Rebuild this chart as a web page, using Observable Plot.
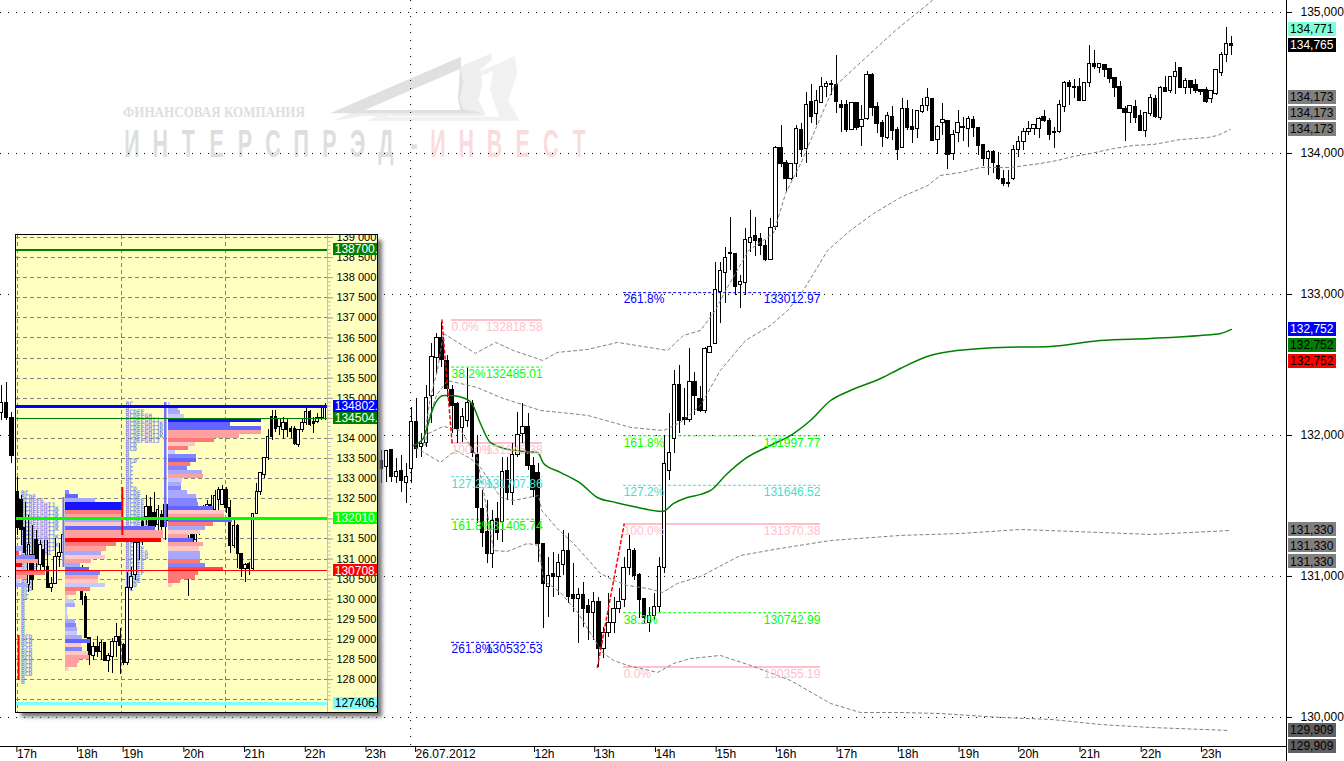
<!DOCTYPE html>
<html><head><meta charset="utf-8">
<script src="https://cdn.jsdelivr.net/npm/d3@7"></script>
<script src="https://cdn.jsdelivr.net/npm/@observablehq/plot@0.6"></script>
<style>
html,body{margin:0;padding:0;background:#fff;}
#main{position:relative;width:1344px;height:761px;overflow:hidden;}
#inset{position:absolute;left:16px;top:235px;width:361px;height:477px;background:#FFFFC0;outline:1px solid #000;box-shadow:5px 5px 4px #777;}
svg{display:block;}
</style></head><body><div id="main"><div id="inset"></div></div>
<script>
// ---------- main chart: 5-minute candles (bar index 0 = 26.07.2012 start of session view)
const firstBar = -4;
const highs=[131894,131894,131894,131837,131858,131801,132199,132262,132014,132355,132652,132723,132801,132567,132355,132234,132191,132475,132248,132000,131610,131539,131468,131525,131844,131844,131943,132163,132227,132156,131844,131801,131234,131135,131170,131156,131326,131305,131092,130915,130957,130837,130887,130851,130638,130880,130851,130915,131135,131291,131199,131021,130844,130780,130880,131135,132000,132156,132461,132496,132333,132617,132447,132347,132624,132872,133227,133227,133333,133546,133284,133135,133468,133596,133546,133433,133383,133539,134050,134199,133950,133929,134199,134213,134433,134489,134447,134539,134511,134518,134695,134376,134376,134355,134355,134340,134581,134567,134362,134234,134291,134333,134184,134390,134376,134312,134305,134390,134461,134383,134199,134355,134227,134163,134305,134255,134262,134262,134184,134064,134021,134021,134007,133879,133879,134057,134120,134177,134227,134206,134255,134305,134248,134184,134376,134511,134518,134525,134532,134503,134766,134730,134638,134631,134596,134532,134511,134333,134340,134376,134305,134284,134418,134411,134475,134546,134539,134645,134603,134532,134511,134525,134454,134468,134440,134596,134716,134894,134830];
const lows=[131660,131667,131667,131660,131596,131518,131660,131837,131844,131915,132085,132440,132482,132269,132014,131943,131950,132057,131844,131376,131206,131092,131057,131255,131241,131539,131504,131844,131943,131752,131560,131099,130631,130709,130851,130865,131007,130809,130745,130525,130638,130546,130546,130355,130418,130567,130596,130738,130780,131007,130972,130702,130667,130603,130688,130745,131021,131681,131872,132014,132071,132092,132142,132163,132156,132582,132645,132794,132936,133170,132993,132901,132993,133298,133269,133277,133234,133241,133454,133901,133723,133808,133830,133972,133929,134213,134199,134355,134397,134411,134284,134149,134149,134170,134163,134050,134234,134262,134142,134042,134099,134092,133950,134035,134163,134071,134106,134284,134298,134085,133993,134128,133886,133950,134078,134085,134042,134113,133986,133908,133844,133858,133808,133766,133759,133808,133972,134021,134128,134128,134106,134220,134092,134035,134142,134291,134340,134390,134369,134369,134468,134596,134567,134539,134496,134397,134312,134085,134213,134213,134156,134113,134262,134248,134234,134433,134425,134418,134461,134418,134418,134425,134411,134355,134355,134411,134546,134645,134695];
const opens=[131816,131773,131894,131702,131745,131660,131759,132092,131915,131950,132277,132546,132688,132525,132326,132220,132050,132106,132220,131858,131482,131312,131156,131411,131383,131745,131589,131858,132007,132057,131780,131731,131227,130922,131021,130993,131078,131184,130872,130837,130872,130787,130738,130816,130482,130596,130667,130766,130830,131057,131184,131007,130837,130667,130723,130780,131057,131745,131972,132355,132121,132113,132376,132262,132170,132582,132652,133021,133149,133284,133284,133064,133078,133362,133418,133390,133347,133248,133482,134042,133936,133816,133922,134163,134035,134362,134277,134355,134468,134496,134489,134347,134347,134170,134355,134191,134241,134560,134333,134213,134113,134262,134170,134042,134312,134191,134177,134291,134340,134383,134099,134213,134227,133993,134142,134191,134177,134234,134184,134057,133964,134007,133908,133816,133794,133816,134028,134078,134149,134177,134177,134262,134227,134149,134149,134333,134503,134468,134468,134369,134503,134638,134603,134631,134596,134532,134468,134319,134284,134333,134269,134156,134277,134383,134255,134461,134440,134539,134603,134461,134511,134489,134447,134447,134383,134425,134574,134695,134773];
const closes=[131759,131887,131702,131738,131674,131702,132092,131901,131943,132269,132560,132688,132532,132333,132206,132043,132128,132227,131879,131489,131305,131156,131390,131305,131738,131589,131858,132000,132057,131780,131610,131227,130950,131000,130993,131092,131184,130851,130837,130865,130766,130738,130816,130482,130596,130667,130766,130816,131057,131191,131000,130830,130702,130723,130780,131064,131801,131879,132355,132106,132113,132376,132277,132170,132610,132624,133035,133163,133262,133291,133050,133092,133383,133404,133376,133347,133241,133475,134042,133922,133816,133922,134177,134028,134347,134262,134369,134468,134496,134489,134362,134326,134170,134355,134184,134234,134560,134326,134206,134120,134269,134156,134028,134312,134184,134170,134298,134340,134390,134092,134191,134234,133986,134128,134213,134184,134241,134184,134050,133964,134014,133929,133816,133787,133787,134028,134078,134149,134177,134199,134248,134227,134128,134142,134347,134503,134468,134461,134369,134503,134638,134610,134638,134589,134525,134461,134312,134284,134340,134255,134156,134284,134397,134262,134461,134433,134539,134581,134461,134511,134461,134440,134433,134362,134440,134589,134695,134773,134765];
// candles just visible above the inset at the far left
const earlyBars=[-79,-78,-77];
const earlyHighs=[132355,132376,132163], earlyLows=[132106,132106,131801], earlyOpens=[132156,132227,132121], earlyCloses=[132227,132121,131851];

// ---------- overlay lines: [bar, price]
const maLine=[[2.4,131929],[4.3,131979],[5.3,132085],[6.3,132199],[8.3,132284],[9.7,132284],[13,132255],[14,132220],[15.6,132085],[17.6,131950],[22.1,131894],[26.9,131879],[28.1,131801],[31.4,131738],[35.4,131660],[38.7,131560],[42.3,131525],[45.8,131496],[51.6,131461],[53.8,131518],[56.5,131560],[59.1,131582],[61.1,131610],[64,131716],[68,131837],[72.9,131929],[76.9,132000],[80.8,132106],[84.8,132248],[88.7,132319],[94.7,132404],[98.6,132475],[104.5,132567],[108.5,132596],[118.4,132624],[128.3,132631],[138.1,132674],[148,132688],[157.9,132709],[161.9,132723],[164,132752]];
const bandUpper2=[[4.3,131929],[5.7,132269],[7.1,132461],[8.3,132723],[14.6,132582],[18.6,132660],[22.1,132603],[27.9,132532],[30.8,132589],[36.8,132610],[42.7,132660],[52.6,132603],[55.7,132709],[59.1,132745],[62,132886],[64.4,133050],[68.6,133312],[73.5,133433],[75.9,133716],[78.9,133929],[82.8,134255],[85.4,134468],[90.7,134645],[97.6,134872],[104.9,135085]];
const bandUpper1=[[4.7,131929],[5.3,132106],[6.9,132284],[9.1,132390],[15,132340],[19.6,132269],[27.5,132177],[31.4,132163],[36.8,132142],[45.3,132057],[51.8,132035],[55.1,132092],[59.1,132213],[63,132461],[68,132674],[72.9,132780],[76.3,132886],[79.4,133028],[84.2,133312],[88.7,133454],[93.3,133574],[98.6,133688],[104,133773],[106.5,133844],[110.5,133865],[114.4,133901],[120.4,133901],[126.3,133929],[129.6,133950],[132.8,133979],[136.2,134000],[140.7,134035],[144.7,134057],[148.6,134064],[154,134099],[159.3,134113],[161.3,134128],[163.8,134170]];
const bandLower1=[[2.8,131915],[7.7,131809],[10.7,131894],[13.6,131837],[15.6,131773],[19.6,131560],[22.1,131539],[27.1,131574],[27.7,131468],[30.8,131340],[34,131234],[39.3,131021],[41.9,130972],[44.7,130936],[48.6,130915],[51.6,130887],[54.5,130950],[59.1,131000],[67,131149],[74.9,131199],[84.8,131255],[98.6,131291],[110.5,131305],[122.3,131333],[138.1,131312],[148,131298],[163.8,131326]];
const bandLower2=[[5.3,132014],[8.3,132064],[11.7,132035],[14.8,131858],[16.2,131610],[18.2,131184],[20.9,131177],[24.9,131234],[27.1,131220],[28.1,130972],[31.4,130887],[34.8,130745],[37.9,130567],[39.7,130461],[41.9,130404],[44.7,130369],[50.6,130319],[53.8,130383],[57.1,130418],[59.1,130425],[63,130440],[69,130369],[76.9,130262],[84.8,130099],[90.7,130035],[98.6,130035],[106.5,130028],[118.4,130000],[128.3,129986],[138.1,129950],[148,129929],[163.4,129908]];
const swingDown=[[8,132818.58],[10,131945.38]];
const swingUp=[[38.7,130355.19],[44,131370.38]];

// ---------- Fibonacci levels
const fibPct=["0.0%","38.2%","100.0%","127.2%","161.8%","261.8%"];
const fibLeftPrices=[132818.58,132485.01,131945.38,131707.86,131405.74,130532.53];
const fibRightPct=["261.8%","161.8%","127.2%","100.0%","38.2%","0.0%"];
const fibRightPrices=[133012.97,131997.77,131646.52,131370.38,130742.99,130355.19];
const fibColors={"0.0%":"#FFC0CB","100.0%":"#FFC0CB","38.2%":"#00FF00","161.8%":"#00FF00","127.2%":"#40E0D0","261.8%":"#0000FF"};

// ---------- axes
const yTicks=[130000,131000,132000,133000,134000,135000];
const timeBars=[-77,-65,-56,-44,-32,-20,-8,1.8,25.3,37.2,49.2,61.2,73.1,85.1,97.2,109.2,121,133.1,145.2,157.1];
const timeLabels=["17h","18h","19h","20h","21h","22h","23h","26.07.2012","12h","13h","14h","15h","16h","17h","18h","19h","20h","21h","22h","23h"];
const boxValues=[134771,134765,134173,134173,134173,132752,132752,132752,131330,131330,131330,129909,129909];
const boxAnchors=[134765,134765,134173,134173,134173,132752,132752,132752,131330,131330,131330,129909,129909];
const boxSlots=[1,0,2,1,0,0,-1,-2,0,-1,-2,0,-1];
const boxFills=["#7FFFD4","#000000","#808080","#808080","#808080","#0000FF","#008000","#FF0000","#808080","#808080","#808080","#606060","#606060"];
const boxInks=["#000","#fff","#000","#000","#000","#fff","#000","#000","#000","#000","#000","#000","#000"];

// ---------- watermark text
const wmTop="ФИНАНСОВАЯ КОМПАНИЯ";
const wmGrey=["И","Н","Т","Е","Р","С","П","Р","Э","Д","-"];
const wmRed=["И","Н","В","Е","С","Т"];

// ---------- inset: candles (bar index 0..81)
const insetHighs=[133029,132581,132407,132084,131835,131711,131462,131462,131462,130541,131512,131387,131959,131835,131338,131213,130964,130840,130143,129049,128924,129073,128974,128899,128651,129024,129397,129273,128899,130666,130790,131462,131711,131959,132581,132532,132656,132333,132208,132382,132457,132084,131835,131711,131338,131586,131711,131959,132208,132333,132457,132581,132706,132781,132830,132781,132457,132009,131860,131114,130890,130914,132133,132880,133129,133527,134224,134696,134696,134497,134522,134497,134298,134298,134224,134497,134771,134696,134522,134622,134746,134870];
const insetOpens=[132656,132457,131761,130342,131089,131462,130840,131213,130790,130268,130367,131039,131139,131586,131213,130840,130516,130591,130044,129024,128577,128800,128676,128899,128452,128552,128924,129049,128850,128402,130268,130591,131387,131910,132034,132283,132158,131835,132084,132333,132333,131959,131462,131512,130840,130964,131586,131462,131711,132208,131959,132333,132208,132457,132357,132706,132258,131313,131810,131114,130740,130865,130740,132133,132656,133079,133502,134522,134522,134273,134199,134373,134248,134248,133826,134199,134373,134647,134398,134398,134497,134473];
const insetCloses=[131761,131711,131139,131338,130467,130964,131338,130790,130292,130367,131039,131139,131586,131213,130840,130591,130840,129969,129024,128601,128800,128676,128899,128452,128577,128924,129049,128825,128402,130268,130541,131387,131586,131462,132283,131785,131785,132208,131785,131785,131959,131711,131711,131338,131213,131213,131263,131835,132084,131835,132333,132084,132581,132706,132706,132258,131313,131810,131114,130740,130840,130740,132133,132656,133129,133502,134025,134025,134224,134473,134373,134199,134149,133851,134199,134373,134671,134323,134348,134497,134473,134771];
const insetLows=[131586,131338,131039,130168,130218,130591,130591,130715,130268,130168,130367,130790,130964,131089,130715,130467,130342,129845,129024,128353,128477,128552,128477,128452,128179,128154,128552,128129,128353,128353,130218,130467,130964,131338,131835,131586,131711,131711,131661,131462,131835,131462,131338,131213,130715,130069,131089,131338,131586,131711,131835,131959,132084,132208,132333,132133,131139,131263,130765,130541,130417,130591,130715,132133,132581,133004,133452,133950,134149,134074,133975,134025,134000,133826,133776,134149,134323,134298,134124,134373,134448,134448];

// ---------- inset: market-profile volumes and delta tone per 100-point row
const prof1Top=131300, prof1Start=-0.2;
const prof1Vol=[6,3,19,22,6,7,29,11,4,12];
const prof1Tone=[-2,4,-3,2,5,-1,3,2,-1,-2];
const prof2Top=132700, prof2Start=12.6;
const prof2Vol=[4,13,30,57,58,57,57,57,57,90,98,98,96,51,41,36,40,26,15,24,35,33,33,40,25,11,3,9,10,2,2,3,10,11,12,12,17,25,16,17,23,24,14,12,3];
const prof2Tone=[-3,-4,-2,-5,-5,3,2,-2,1,-4,2,2,5,3,2,-2,1,2,-2,-4,-3,2,1,-1,3,2,1,-1,-2,-1,-1,-1,-2,-3,-2,-1,-2,-4,1,-3,1,2,2,2,1];
const prof3Top=134900, prof3Start=39.7;
const prof3Vol=[2,10,12,16,93,62,93,93,71,46,27,20,7,28,28,22,19,34,35,14,13,13,19,28,29,30,45,56,56,64,45,37,32,20,25,35,31,32,32,32,37,55,30,27,12,4];
const prof3Tone=[-1,-2,-2,-1,-5,-4,-4,2,2,3,1,3,-1,-3,-4,3,-3,-2,2,-1,-2,-3,-2,-2,-3,-3,-4,1,2,-4,3,-2,1,2,-4,2,1,-2,-2,3,-3,4,3,3,3,1];
const toneDomain=[-5,-4,-3,-2,-1,1,2,3,4,5];
const toneRange=["#1414ff","#6464ff","#8484ff","#a8a8ff","#c8c8ff","#ffc6c6","#ffa0a0","#ff7878","#ff4848","#ff0000"];

// TPO letter rows: number of letters per 100-point row
const tpoAlphabet="BCDEFGHIJKLMNOPQRS";
const tpoATop=132700, tpoABar=0.9;
const tpoACounts=[2,4,6,9,10,10,10,10,10,10,9,10,9,10,9,8,6,5,5,4,3,3,3,3,3,2,2,1,1,1,1,1,1,1,1,1,3,3,3,3,3,3,3,3,3,3,1,1];
const tpoBTop=134900, tpoBBar=28.4;
const tpoBCounts=[2,1,5,7,9,10,10,10,10,9,3,3,1,1,3,2,2,2,2,2,2,3,4,4,5,5,6,6,6,6,6,6,5,5,5,4,5,6,6,5,5,5,5,4,4,3,2];

// inset reference levels
const insetTicks=[128000,128500,129000,129500,130000,130500,131000,131500,132000,132500,133000,133500,134000,134500,135000,135500,136000,136500,137000,137500,138000,138500,139000];
const insetGrid=[127500,...insetTicks];
const levelPrices=[138700,134802,134504,132010,130708,127406];
const levelTexts=["138700.0","134802.5","134504.8","132010.4","130708.7","127406.5"];
const levelColors=["#008000","#0000FF","#008000","#00FF00","#FF0000","#80FFFF"];
const levelWidths=[2,3,1,3,1,3];
const levelInks=["#fff","#fff","#fff","#fff","#fff","#000"];
const gridBars=[0,27.4,54.7];

// ---------- build tables
const candles=highs.map((h,k)=>({i:firstBar+k,h,l:lows[k],o:opens[k],c:closes[k]}))
  .concat(earlyBars.map((i,k)=>({i,h:earlyHighs[k],l:earlyLows[k],o:earlyOpens[k],c:earlyCloses[k]})));
const insetCandles=insetHighs.map((h,i)=>({i,h,l:insetLows[i],o:insetOpens[i],c:insetCloses[i]}));
const fibL=fibPct.map((pct,k)=>({pct,p:fibLeftPrices[k],x1:9.9,x2:27.9,label:fibLeftPrices[k].toFixed(2)}));
const fibR=fibRightPct.map((pct,k)=>({pct,p:fibRightPrices[k],x1:43.9,x2:82.8,label:fibRightPrices[k].toFixed(2)}));
const fibs=fibL.concat(fibR);
const isSolid=d=>d.pct==="0.0%"||d.pct==="100.0%";
const pricePerPx=7.092;
const boxes=boxValues.map((v,k)=>({v,a:boxAnchors[k]+boxSlots[k]*16*pricePerPx,fill:boxFills[k],ink:boxInks[k]}));
const timeMap=new Map(timeBars.map((b,k)=>[b,timeLabels[k]]));
const band=a=>Plot.line(a,{x:d=>d[0],y:d=>d[1],stroke:"#808080",strokeWidth:1,strokeDasharray:"3,3",curve:"linear"});
const candleMarks=(data,hw)=>[
  Plot.ruleX(data,{x:"i",y1:"l",y2:"h",stroke:"#000",strokeWidth:1,shapeRendering:"crispEdges"}),
  Plot.rect(data,{x1:d=>d.i-hw,x2:d=>d.i+hw,y1:d=>Math.max(d.o,d.c),y2:d=>Math.min(d.o,d.c),fill:d=>d.c>=d.o?"#fff":"#000",stroke:"#000",strokeWidth:1,shapeRendering:"crispEdges"})
];
// watermark behind the chart
function watermark(index,scales,values,dim,ctx){
  const g=d3.select(ctx.document.createElementNS("http://www.w3.org/2000/svg","g")).attr("aria-label","watermark");
  const logo=g.append("g").attr("transform","translate(110,50) scale(0.3333)");
  const poly=(pts,f)=>logo.append("polygon").attr("points",pts).attr("fill",f);
  poly("770,212 1215,18 1222,70 1195,150 1228,212","#f1f1f1");
  poly("830,200 1150,62 1140,120 1168,200","#fff");
  poly("670,212 1145,10 1145,30 1110,60 1118,100 1105,150 1125,190 1125,198 760,198","#efefef");
  poly("660,190 1053,20 1053,60 1060,100 1048,150 1060,178 1120,190","#e0e0e0");
  poly("765,180 1050,57 1044,150 1052,180","#fff");
  poly("820,180 1045,85 1040,150 1048,178","#fff");
  g.append("text").attr("x",123).attr("y",117).attr("text-anchor","start").attr("font-family","Liberation Serif").attr("font-weight","bold").attr("font-size",14).attr("fill","#dedede").attr("textLength",182).attr("lengthAdjust","spacingAndGlyphs").text(wmTop);
  const big=(ch,x,f)=>g.append("text").attr("transform",`translate(${x},157) scale(0.55,1)`).attr("text-anchor","middle").attr("font-family","Liberation Sans").attr("font-weight","bold").attr("font-size",39).attr("fill",f).text(ch);
  wmGrey.forEach((ch,k)=>big(ch,132+k*28.2,"#dedede"));
  wmRed.forEach((ch,k)=>big(ch,438+k*28.2,"#fadcdc"));
  return g.node();
}

const mainPlot=Plot.plot({
  width:1344,height:761,marginTop:0,marginLeft:0,marginRight:58,marginBottom:15,
  style:{fontFamily:"Liberation Sans",fontSize:"12px",background:"transparent",overflow:"hidden",color:"#000"},
  x:{domain:[-79.25,174.9],axis:null},
  y:{domain:[129794,135085],axis:null},
  marks:[
    watermark,
    Plot.ruleY(yTicks,{x1:()=>-79.25,x2:()=>174.9,stroke:"#000",strokeDasharray:"1,7"}),
    Plot.ruleX([1.8],{y1:()=>135085,y2:()=>129794,stroke:"#000",strokeDasharray:"1,7"}),
    Plot.ruleY(fibs.filter(d=>!isSolid(d)),{y:"p",x1:"x1",x2:"x2",stroke:d=>fibColors[d.pct],strokeWidth:1,strokeDasharray:"3,2"}),
    Plot.ruleY(fibs.filter(isSolid),{y:"p",x1:"x1",x2:"x2",stroke:d=>fibColors[d.pct],strokeWidth:2,shapeRendering:"crispEdges"}),
    ...candleMarks(candles,0.33),
    band(bandUpper2),band(bandUpper1),band(bandLower1),band(bandLower2),
    Plot.line(maLine,{x:d=>d[0],y:d=>d[1],stroke:"#008000",strokeWidth:1.5,curve:"monotone-x"}),
    Plot.line(swingDown,{x:d=>d[0],y:d=>d[1],stroke:"#FF0000",strokeDasharray:"3,3"}),
    Plot.line(swingUp,{x:d=>d[0],y:d=>d[1],stroke:"#FF0000",strokeDasharray:"3,3"}),
    Plot.text(fibs,{x:"x1",y:"p",dy:7,text:"pct",textAnchor:"start",fill:d=>fibColors[d.pct],fontSize:12}),
    Plot.text(fibs,{x:"x2",y:"p",dy:7,text:"label",textAnchor:"end",fill:d=>fibColors[d.pct],fontSize:12}),
    Plot.ruleX([174.9],{y1:()=>135085,y2:()=>129680,stroke:"#000",strokeWidth:1,shapeRendering:"crispEdges"}),
    Plot.ruleY([129794],{x1:()=>-79.25,x2:()=>174.9,stroke:"#000",strokeWidth:1,shapeRendering:"crispEdges"}),
    Plot.axisX({anchor:"bottom",ticks:timeBars,tickFormat:d=>timeMap.get(d),tickSize:6,tickPadding:-3,textAnchor:"start",dx:5,fontSize:12,label:null,lineAnchor:"top"}),
    Plot.axisY({anchor:"right",ticks:yTicks,tickFormat:d3.format(","),tickSize:5,tickPadding:9,fontSize:12,label:null}),
    Plot.rect(boxes,{x1:()=>175.3,x2:()=>184.8,y1:d=>d.a+7*pricePerPx,y2:d=>d.a-7*pricePerPx,fill:"fill",shapeRendering:"crispEdges"}),
    Plot.text(boxes,{x:()=>175.6,y:"a",text:d=>d3.format(",")(d.v),textAnchor:"start",fill:"ink",fontSize:12})
  ]
});
document.getElementById("main").prepend(mainPlot);

// ---------- inset
const rows=(top,vols,tones,start)=>vols.map((v,k)=>({level:top-k*100,start,v,tone:tones[k]}));
const hist=[...rows(prof1Top,prof1Vol,prof1Tone,prof1Start),...rows(prof2Top,prof2Vol,prof2Tone,prof2Start),...rows(prof3Top,prof3Vol,prof3Tone,prof3Start)];
const tpoRows=(top,counts,bar)=>counts.map((n,k)=>({level:top-k*100-50,bar,s:tpoAlphabet.slice(0,n)}));
const tpo=[...tpoRows(tpoATop,tpoACounts,tpoABar),...tpoRows(tpoBTop,tpoBCounts,tpoBBar)];
const levels=levelPrices.map((p,k)=>({p,t:levelTexts[k],c:levelColors[k],w:levelWidths[k],ink:levelInks[k]}));
const minorTicks=d3.range(127500,139001,100);
const insetPlot=Plot.plot({
  width:361,height:477,marginTop:0,marginBottom:0,marginLeft:0,marginRight:50,
  style:{fontFamily:"Liberation Sans",fontSize:"12px",background:"transparent",overflow:"hidden",color:"#000"},
  x:{domain:[-0.26,81.6],axis:null},
  y:{domain:[127182,139050],axis:null},
  color:{type:"ordinal",domain:toneDomain,range:toneRange},
  marks:[
    Plot.ruleY(insetGrid,{stroke:"#808080",strokeDasharray:"4,3",shapeRendering:"crispEdges"}),
    Plot.ruleX(gridBars,{stroke:"#808080",strokeDasharray:"4,3",shapeRendering:"crispEdges"}),
    Plot.ruleX([81.6],{stroke:"#c0c0c0",strokeWidth:1}),
    Plot.ruleY(minorTicks,{x1:()=>81.6,x2:()=>82.6,stroke:"#c0c0c0"}),
    Plot.ruleY(insetTicks,{x1:()=>81.6,x2:()=>83.2,stroke:"#a0a0a0"}),
    Plot.text(tpo,{x:"bar",y:"level",text:"s",textAnchor:"start",fontFamily:"DejaVu Sans Mono",fontSize:6.3,fontWeight:"bold",fill:"#8c8cf0"}),
    ...candleMarks(insetCandles,0.33),
    Plot.rect(hist,{x1:"start",x2:d=>d.start+d.v/3.8,y1:"level",y2:d=>d.level-100,fill:"tone",shapeRendering:"crispEdges"}),
    Plot.ruleX([12.1],{y1:()=>132531,y2:()=>130790,stroke:"#7070ff",strokeWidth:2}),
    Plot.ruleX([38.9],{y1:()=>134895,y2:()=>131785,stroke:"#7070ff",strokeWidth:2.5}),
    Plot.ruleX([27.6],{y1:()=>132780,y2:()=>131586,stroke:"#ff0000",strokeWidth:2}),
    Plot.ruleX([0.3],{y1:()=>129098,y2:()=>127978,stroke:"#ff0000",strokeWidth:2}),
    Plot.ruleY(levels,{y:"p",x1:()=>-0.26,x2:()=>81.6,stroke:"c",strokeWidth:"w",shapeRendering:"crispEdges"}),
    Plot.axisY({anchor:"right",ticks:insetTicks,tickFormat:d=>d3.format(",")(d).replace(","," "),tickSize:0,tickPadding:9,fontSize:11,label:null}),
    Plot.rect(levels,{x1:()=>83.3,x2:()=>96,y1:d=>d.p+150,y2:d=>d.p-150,fill:"c",shapeRendering:"crispEdges"}),
    Plot.text(levels,{x:()=>83.5,y:"p",text:"t",textAnchor:"start",fill:"ink",fontSize:12})
  ]
});
document.getElementById("inset").append(insetPlot);
</script></body></html>
